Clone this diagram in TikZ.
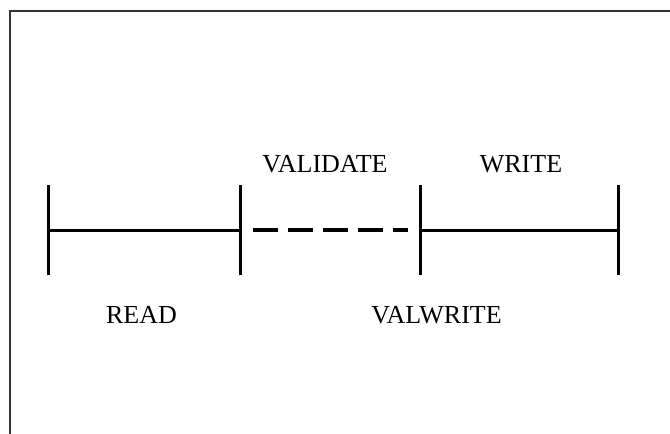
\documentclass[tikz,border=0pt]{standalone}
\usepackage{fontspec}
\setmainfont{Liberation Serif}
\begin{document}
\begin{tikzpicture}[x=1pt,y=-1pt,
  frame/.style={draw=black!80,line width=1.2pt},
  tick/.style={line width=3pt},
  span/.style={line width=3pt},
  pending/.style={line width=3.5pt,dash pattern=on 25pt off 10pt},
  phase/.style={font=\fontsize{26}{30}\selectfont,anchor=base,inner sep=0pt}]
\useasboundingbox (0,0) rectangle (670,434);
% open frame along the left and top edges
\draw[frame] (10,434) -- (10,11) -- (670,11);
% phase boundaries on the time line
\coordinate (p0) at (48,230);
\coordinate (p1) at (240,230);
\coordinate (p2) at (420,230);
\coordinate (p3) at (618,230);
\coordinate (d0) at (253,230);
\coordinate (d1) at (408,230);
\foreach \p in {p0,p1,p2,p3}
  \draw[tick] ([yshift=-45pt]\p) -- ([yshift=45pt]\p);
\draw[span] (p0) -- (p1);
\draw[pending] (d0) -- (d1);
\draw[span] (p2) -- (p3);
% phase labels
\node[phase] (validate) at (325,172) {VALIDATE};
\node[phase] (write) at (521,172) {WRITE};
\node[phase] (read) at (141.5,323) {READ};
\node[phase] (valwrite) at (436.5,323) {VALWRITE};
\end{tikzpicture}
\end{document}
